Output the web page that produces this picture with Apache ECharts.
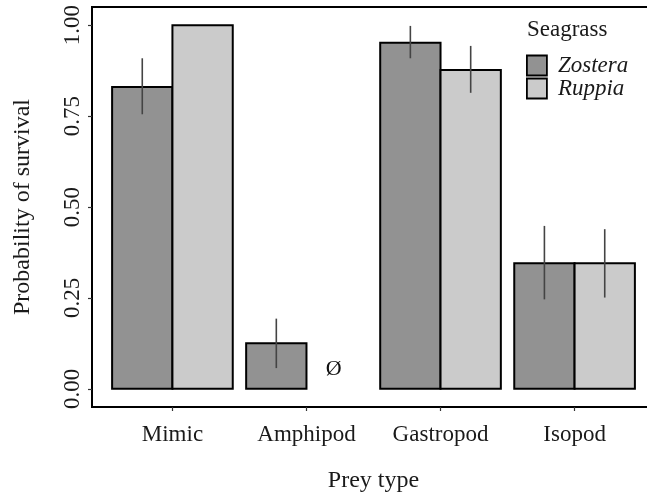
<!DOCTYPE html>
<html>
<head>
<meta charset="utf-8">
<script src="https://cdn.jsdelivr.net/npm/echarts@6/dist/echarts.min.js"></script>
<style>html,body{margin:0;padding:0;background:#fff}#c{width:647px;height:493px}</style>
</head>
<body>
<div id="c"></div>
<script>
// ---- data ----
const categories = ['Mimic', 'Amphipod', 'Gastropod', 'Isopod'];
const seriesNames = ['Zostera', 'Ruppia'];
const zosteraValues = [0.83, 0.125, 0.952, 0.345];
const ruppiaValues = [1.00, null, 0.877, 0.345];
const zosteraLow = [0.755, 0.057, 0.909, 0.246];
const zosteraHigh = [0.909, 0.193, 0.998, 0.448];
const ruppiaLow = [null, null, 0.814, 0.251];
const ruppiaHigh = [null, null, 0.943, 0.439];
const yTicks = [0, 0.25, 0.5, 0.75, 1.0];
const missingSymbol = 'Ø';

const FONT = 'Liberation Serif';
const colors = ['#929292', '#cbcbcb'];
const dodge = 0.45;

function barSeries(name, values, idx) {
  const data = values.map((v, i) => [i + 1, v === null ? 0 : v, v === null ? 1 : 0]);
  return {
    type: 'custom',
    name: name,
    itemStyle: { color: colors[idx], borderColor: '#000', borderWidth: 1.5 },
    data: data,
    z: 2,
    renderItem: function (params, api) {
      const x = api.value(0);
      const v = api.value(1);
      const missing = api.value(2) === 1;
      const x0 = idx === 0 ? x - dodge : x;
      const x1 = idx === 0 ? x : x + dodge;
      if (missing) {
        const p = api.coord([(x0 + x1) / 2, 0]);
        return {
          type: 'text',
          style: { text: missingSymbol, x: p[0] - 3, y: p[1] - 20, align: 'center', verticalAlign: 'middle',
                   font: '22px "' + FONT + '"', fill: '#111' }
        };
      }
      const pTop = api.coord([x0, v]);
      const pBot = api.coord([x1, 0]);
      return {
        type: 'rect',
        shape: { x: pTop[0], y: pTop[1], width: pBot[0] - pTop[0], height: pBot[1] - pTop[1] },
        style: { fill: colors[idx], stroke: '#000', lineWidth: 2 }
      };
    }
  };
}

function errSeries(lows, highs, idx) {
  const data = [];
  lows.forEach((lo, i) => { if (lo !== null) data.push([i + 1, lo, highs[i]]); });
  return {
    type: 'custom',
    name: 'err' + idx,
    data: data,
    z: 3,
    silent: true,
    renderItem: function (params, api) {
      const x = api.value(0) + (idx === 0 ? -dodge / 2 : dodge / 2);
      const a = api.coord([x, api.value(1)]);
      const b = api.coord([x, api.value(2)]);
      return {
        type: 'line',
        shape: { x1: a[0], y1: a[1], x2: b[0], y2: b[1] },
        style: { stroke: '#444', lineWidth: 1.6 }
      };
    }
  };
}

const chart = echarts.init(document.getElementById('c'), null, { renderer: 'canvas' });
chart.setOption({
  animation: false,
  backgroundColor: '#fff',
  textStyle: { fontFamily: FONT },
  title: {
    text: 'Seagrass', left: 527, top: 18, padding: 0,
    textStyle: { fontFamily: FONT, fontSize: 23, fontWeight: 'normal', color: '#1a1a1a' }
  },
  legend: {
    orient: 'vertical', left: 526, top: 54, itemGap: 0, padding: 0,
    itemWidth: 20, itemHeight: 20, icon: 'rect',
    data: seriesNames.map((n, i) => ({ name: n, itemStyle: { color: colors[i], borderColor: '#000', borderWidth: 1.8 } })),
    textStyle: { fontFamily: FONT, fontSize: 23, fontStyle: 'italic', color: '#1a1a1a', lineHeight: 20, padding: [0, 0, 0, 6] }
  },
  grid: {
    left: 92, top: 7, width: 563, height: 400,
    outerBoundsMode: 'none', containLabel: false,
    show: true, borderColor: '#000', borderWidth: 2, backgroundColor: 'transparent'
  },
  xAxis: {
    type: 'value', min: 0.4, max: 4.6,
    name: 'Prey type', nameLocation: 'middle', nameGap: 62,
    nameTextStyle: { fontFamily: FONT, fontSize: 24, color: '#1a1a1a' },
    axisLine: { show: false, onZero: false },
    splitLine: { show: false },
    axisTick: { show: true, length: 4, customValues: [1, 2, 3, 4], lineStyle: { color: '#333', width: 1.2 } },
    axisLabel: {
      customValues: [1, 2, 3, 4], margin: 16,
      formatter: v => categories[Math.round(v) - 1],
      fontFamily: FONT, fontSize: 23, color: '#1a1a1a'
    }
  },
  yAxis: {
    type: 'value', min: -0.05, max: 1.05,
    name: 'Probability of survival', nameLocation: 'middle', nameRotate: 90, nameGap: 57,
    nameTextStyle: { fontFamily: FONT, fontSize: 24, color: '#1a1a1a' },
    axisLine: { show: false, onZero: false },
    splitLine: { show: false },
    axisTick: { show: true, length: 4, customValues: yTicks, lineStyle: { color: '#333', width: 1.2 } },
    axisLabel: {
      customValues: yTicks, rotate: 90, margin: 8,
      align: 'center', verticalAlign: 'bottom',
      formatter: v => v.toFixed(2),
      fontFamily: FONT, fontSize: 23, color: '#1a1a1a'
    }
  },
  series: [
    barSeries(seriesNames[0], zosteraValues, 0),
    barSeries(seriesNames[1], ruppiaValues, 1),
    errSeries(zosteraLow, zosteraHigh, 0),
    errSeries(ruppiaLow, ruppiaHigh, 1)
  ]
});
</script>
</body>
</html>
